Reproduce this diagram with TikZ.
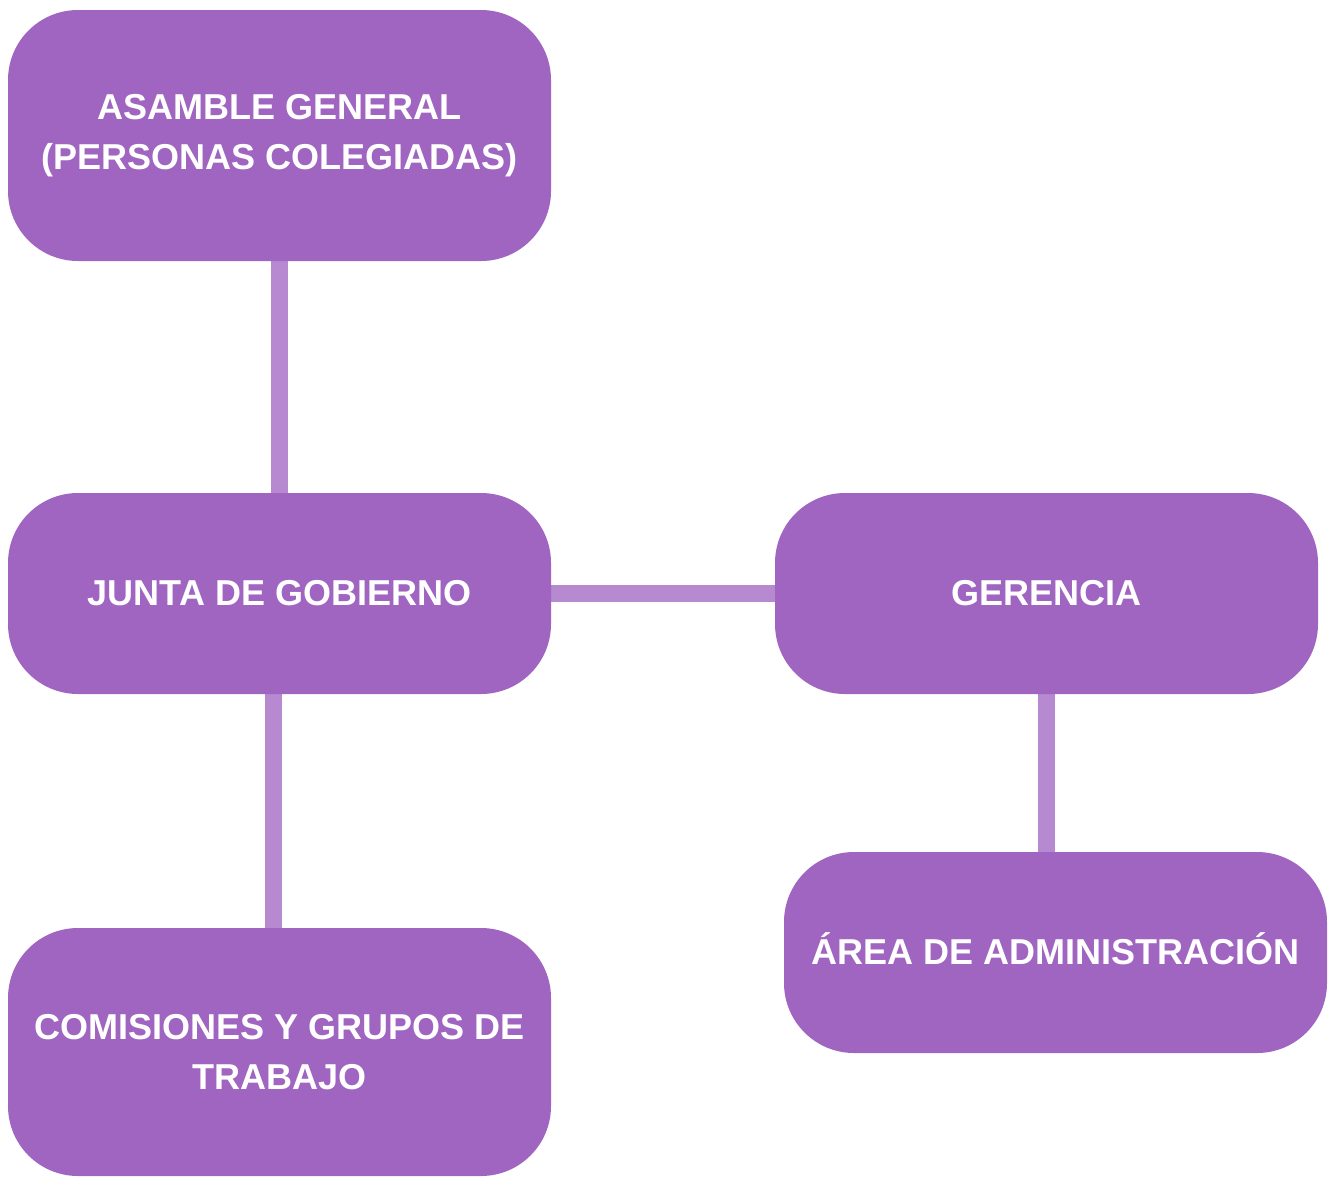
\documentclass[tikz,border=0pt]{standalone}
\usepackage{fontspec}
\setmainfont{Liberation Sans}
\usetikzlibrary{backgrounds}
\definecolor{boxpurple}{HTML}{A064C1}
\definecolor{linepurple}{HTML}{B689D0}
\begin{document}
\begin{tikzpicture}[x=1pt,y=-1pt,
  orgbox/.style={rectangle, rounded corners=70pt, fill=boxpurple, draw=none,
    text=white, font=\fontsize{36}{50}\selectfont\bfseries, align=center,
    minimum width=543pt, inner sep=0pt},
  link/.style={draw=linepurple, line width=17pt}]
\useasboundingbox (0,0) rectangle (1328,1176);
\node[orgbox, minimum height=251pt] (asam) at (279.5,135.5) {ASAMBLE GENERAL\\(PERSONAS COLEGIADAS)};
\node[orgbox, minimum height=201pt] (junta) at (279.5,593.5) {JUNTA DE GOBIERNO};
\node[orgbox, minimum height=201pt] (ger) at (1046.5,593.5) {GERENCIA};
\node[orgbox, minimum height=201pt] (area) at (1055.5,952.5) {\smash{Á}REA DE ADMINISTRACI\smash{Ó}N};
\node[orgbox, minimum height=248pt] (comis) at (279.5,1052) {COMISIONES Y GRUPOS DE\\TRABAJO};
\begin{scope}[on background layer]
\draw[link] (asam.south) -- (junta.north);
\draw[link] (junta.east) -- (ger.west);
\draw[link] ([xshift=-6.5pt]junta.south) -- ([xshift=-6.5pt]comis.north);
\draw[link] (ger.south) -- (ger.south |- area.north);
\end{scope}
\end{tikzpicture}
\end{document}
